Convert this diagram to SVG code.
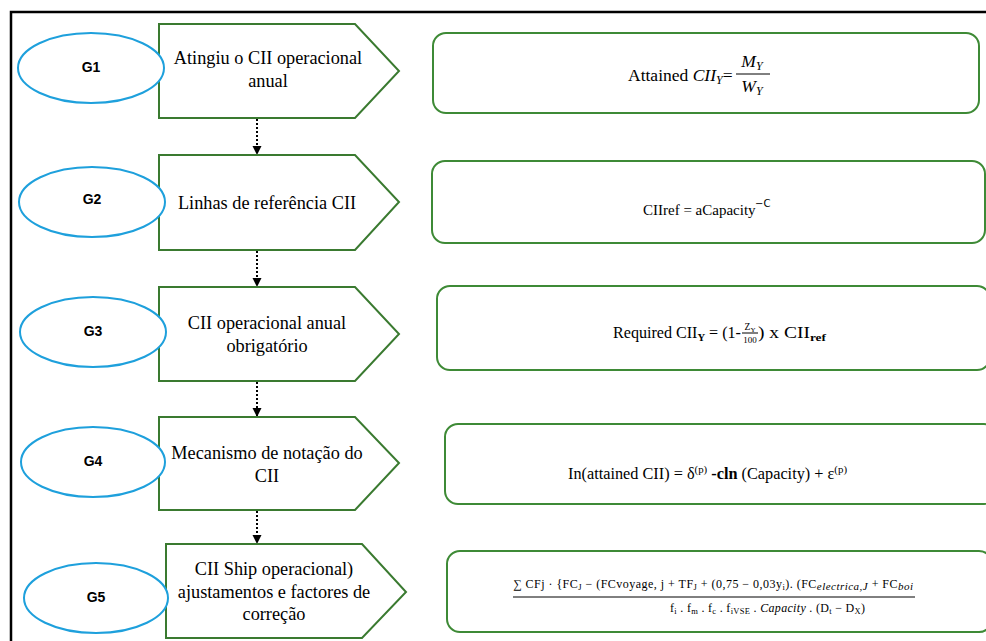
<svg xmlns="http://www.w3.org/2000/svg" width="986" height="641" viewBox="0 0 986 641">
  <defs>
    <style>
      .frame { fill: none; stroke: #000; stroke-width: 2.5; }
      .goal { fill: #fff; stroke: #1ea0dc; stroke-width: 2; }
      .goal-label { font-family: "Liberation Sans", Arial, sans-serif; font-weight: bold; font-size: 14px; fill: #000; text-anchor: middle; }
      .step { fill: #fff; stroke: #3a7a30; stroke-width: 2; }
      .step-label { font-family: "Liberation Serif", "Times New Roman", serif; font-size: 18.3px; fill: #000; text-anchor: middle; }
      .formula-box { fill: #fff; stroke: #3e8a36; stroke-width: 2; }
      .math { font-family: "Liberation Serif", "Times New Roman", serif; fill: #000; }
      .it { font-style: italic; }
      .bar { stroke: #000; stroke-width: 1; }
      .link { fill: none; stroke: #000; stroke-width: 2; stroke-dasharray: 2 2; }
    </style>
    <marker id="arrow" markerWidth="10" markerHeight="10" refX="8" refY="5" orient="auto" markerUnits="userSpaceOnUse">
      <path d="M0,0.5 L9,5 L0,9.5 Z" fill="#000"/>
    </marker>
  </defs>

  <rect width="986" height="641" fill="#fff"/>

  <!-- outer frame (top and left edges) -->
  <path class="frame" d="M11,641 L11,12 L986,12"/>

  <!-- connectors between steps -->
  <g id="connectors">
    <line class="link" x1="257" y1="119" x2="257" y2="154" marker-end="url(#arrow)"/>
    <line class="link" x1="257" y1="251" x2="257" y2="286" marker-end="url(#arrow)"/>
    <line class="link" x1="257" y1="382" x2="257" y2="416" marker-end="url(#arrow)"/>
    <line class="link" x1="257" y1="511" x2="257" y2="543" marker-end="url(#arrow)"/>
  </g>

  <!-- G1 -->
  <g id="step-g1">
    <polygon class="step" points="159,24 355,24 399,71 355,118 159,118"/>
    <ellipse class="goal" cx="91" cy="68" rx="73" ry="35"/>
    <text class="goal-label" x="91" y="72">G1</text>
    <text class="step-label" x="268" y="64">Atingiu o CII operacional</text>
    <text class="step-label" x="268" y="87">anual</text>
  </g>
  <g id="formula-g1">
    <rect class="formula-box" x="433" y="33" width="546" height="80" rx="13"/>
    <text class="math" font-size="17.5" x="628" y="81">Attained <tspan class="it">CII</tspan><tspan class="it" font-size="12" dy="3">Y</tspan><tspan dy="-3">=</tspan></text>
    <text class="math it" font-size="17.5" x="752" y="67" text-anchor="middle">M<tspan font-size="12" dy="3">Y</tspan></text>
    <line class="bar" x1="736" y1="74" x2="770" y2="74"/>
    <text class="math it" font-size="17.5" x="752" y="92" text-anchor="middle">W<tspan font-size="12" dy="3">Y</tspan></text>
  </g>

  <!-- G2 -->
  <g id="step-g2">
    <polygon class="step" points="159,155 355,155 399,202 355,250 159,250"/>
    <ellipse class="goal" cx="92" cy="202" rx="73" ry="35"/>
    <text class="goal-label" x="92" y="204">G2</text>
    <text class="step-label" x="267" y="209">Linhas de referência CII</text>
  </g>
  <g id="formula-g2">
    <rect class="formula-box" x="432" y="161" width="553" height="82" rx="13"/>
    <text class="math" font-size="15" x="643" y="215">CIIref = aCapacity</text>
    <text font-family="DejaVu Sans, sans-serif" font-size="10" x="755" y="207">−C</text>
  </g>

  <!-- G3 -->
  <g id="step-g3">
    <polygon class="step" points="159,287 355,287 399,334 355,381 159,381"/>
    <ellipse class="goal" cx="93" cy="332" rx="73" ry="35"/>
    <text class="goal-label" x="93" y="336">G3</text>
    <text class="step-label" x="267" y="329">CII operacional anual</text>
    <text class="step-label" x="267" y="352">obrigatório</text>
  </g>
  <g id="formula-g3">
    <rect class="formula-box" x="437" y="286" width="553" height="84" rx="13"/>
    <text class="math" font-size="16" x="613" y="338" textLength="128" lengthAdjust="spacingAndGlyphs">Required CII<tspan font-size="10.5" dy="3" font-weight="bold">Y</tspan><tspan dy="-3"> = (1-</tspan></text>
    <text class="math" font-size="9.5" x="750" y="330" text-anchor="middle">Z<tspan dy="2" font-size="7">Y</tspan></text>
    <line class="bar" x1="742" y1="333" x2="758" y2="333" stroke-width="0.8"/>
    <text class="math" font-size="9" x="750" y="343" text-anchor="middle">100</text>
    <text class="math" font-size="16" x="758" y="338" textLength="68" lengthAdjust="spacingAndGlyphs">) x CII<tspan font-size="11" dy="3" font-weight="bold">ref</tspan></text>
  </g>

  <!-- G4 -->
  <g id="step-g4">
    <polygon class="step" points="159,417 355,417 399,463 355,510 159,510"/>
    <ellipse class="goal" cx="93" cy="462" rx="72" ry="35"/>
    <text class="goal-label" x="93" y="466">G4</text>
    <text class="step-label" x="267" y="459">Mecanismo de notação do</text>
    <text class="step-label" x="267" y="482">CII</text>
  </g>
  <g id="formula-g4">
    <rect class="formula-box" x="445" y="424" width="552" height="80" rx="13"/>
    <text class="math" font-size="16.5" x="568" y="479" textLength="279" lengthAdjust="spacingAndGlyphs">In(attained CII) =  δ<tspan font-size="11" dy="-6">(p)</tspan><tspan dy="6" font-weight="bold"> -cln</tspan> (Capacity) + ε<tspan font-size="11" dy="-6">(p)</tspan></text>
  </g>

  <!-- G5 -->
  <g id="step-g5">
    <polygon class="step" points="166,544 362,544 406,592 362,638 166,638"/>
    <ellipse class="goal" cx="96" cy="598" rx="72" ry="35"/>
    <text class="goal-label" x="96" y="602">G5</text>
    <text class="step-label" x="274" y="575">CII Ship operacional)</text>
    <text class="step-label" x="274" y="598">ajustamentos e factores de</text>
    <text class="step-label" x="274" y="620">correção</text>
  </g>
  <g id="formula-g5">
    <rect class="formula-box" x="447" y="551" width="545" height="81" rx="13"/>
    <text class="math" font-size="12" x="513" y="588" textLength="400" lengthAdjust="spacing">∑ CFj  · {FC<tspan font-size="8.5" dy="2">J</tspan><tspan dy="-2"> − (FCvoyage, j +  TF</tspan><tspan font-size="8.5" dy="2">J</tspan><tspan dy="-2"> +  (0,75 − 0,03y</tspan><tspan font-size="8.5" dy="2">i</tspan><tspan dy="-2">). (FC</tspan><tspan class="it" font-size="11" dy="2">electrica,J</tspan><tspan dy="-2">  +  FC</tspan><tspan class="it" font-size="11" dy="2">boi</tspan></text>
    <line class="bar" x1="513" y1="597" x2="915" y2="597"/>
    <text class="math" font-size="12" x="670" y="612" textLength="195" lengthAdjust="spacing">f<tspan font-size="8.5" dy="2">i</tspan><tspan dy="-2"> . f</tspan><tspan font-size="8.5" dy="2">m</tspan><tspan dy="-2"> . f</tspan><tspan font-size="8.5" dy="2">c</tspan><tspan dy="-2"> . f</tspan><tspan font-size="8.5" dy="2">iVSE</tspan><tspan dy="-2"> . </tspan><tspan class="it">Capacity</tspan> . (D<tspan font-size="8.5" dy="2">t</tspan><tspan dy="-2">  −  D</tspan><tspan font-size="8.5" dy="2">X</tspan><tspan dy="-2">)</tspan></text>
  </g>
</svg>
